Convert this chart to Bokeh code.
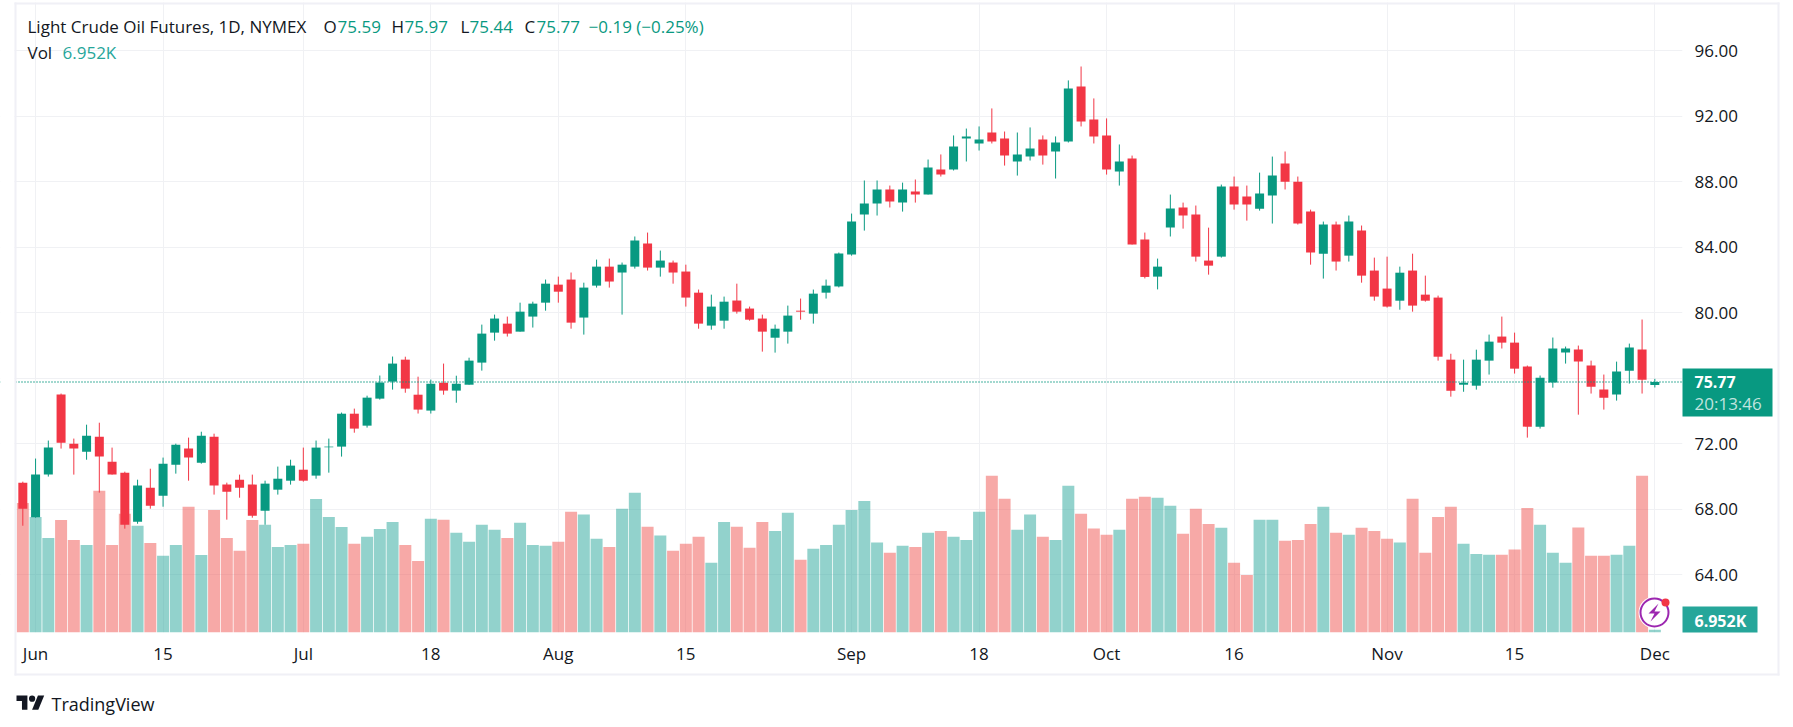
from bokeh.plotting import figure
from bokeh.layouts import column
from bokeh.embed import file_html
from bokeh.resources import INLINE
from bokeh.models import (ColumnDataSource, Range1d, FixedTicker, Span, Label,
                          NumeralTickFormatter)

FONT = "Open Sans"
UP, DOWN = "#089981", "#F23645"
VOL_UP, VOL_DOWN = "#26A69A", "#EF5350"
INK = "#131722"
GRID = "#F0F1F4"
FRAME = "#F0F0F6"

highs = [69.69,71.10,72.20,75.07,72.32,73.17,73.29,71.77,70.30,69.81,70.48,71.16,72.01,72.38,72.74,72.62,69.63,70.12,70.12,69.75,
70.61,71.03,71.77,72.20,72.32,73.91,74.15,74.94,76.17,77.33,77.32,76.10,75.92,76.90,76.16,77.26,79.28,79.89,79.77,80.62,
80.68,82.03,82.21,82.46,81.84,83.25,83.31,83.07,84.66,84.90,83.80,83.19,82.94,81.42,81.11,80.99,81.78,80.38,79.89,79.28,
80.44,80.87,81.42,82.03,83.68,86.06,88.08,88.08,87.77,87.95,88.14,89.36,89.67,90.83,91.25,91.38,92.48,91.07,91.01,91.32,
90.83,90.77,94.19,95.04,93.09,91.87,90.28,89.60,84.90,83.31,87.22,86.73,86.55,85.20,87.83,88.32,87.77,88.56,89.54,89.85,
88.32,86.30,85.57,85.57,85.94,85.33,83.37,83.43,82.82,83.61,82.27,81.05,77.50,77.14,77.75,78.67,79.77,78.79,76.78,76.17,
78.49,77.94,78.00,77.08,76.23,77.02,78.12,79.59,75.97]
opens = [69.63,67.51,70.12,75.01,72.01,71.52,72.44,70.91,70.24,67.25,69.32,68.83,70.73,71.71,70.85,72.44,69.51,69.81,69.51,67.92,
69.20,69.75,70.42,70.06,71.79,71.83,73.84,73.11,74.76,75.80,77.14,75.00,74.03,75.73,75.25,75.61,76.96,78.79,79.34,78.85,
79.77,80.62,81.72,82.03,79.71,81.66,82.82,82.46,82.82,84.23,82.76,83.07,82.52,81.23,79.22,79.52,80.75,80.26,79.65,78.48,
78.85,80.13,79.95,81.23,81.61,83.56,86.00,86.67,87.53,86.73,87.40,87.22,88.75,88.75,90.64,90.34,91.01,90.64,89.24,89.54,
90.58,89.85,90.46,93.82,91.80,90.83,88.63,89.42,84.47,82.21,85.21,86.43,86.00,83.19,83.43,87.71,87.10,86.36,87.16,89.11,
88.01,86.18,83.61,85.39,83.49,85.02,82.58,81.48,80.74,82.58,81.11,80.93,77.14,75.61,75.55,77.08,78.55,78.18,76.72,73.05,
75.74,77.57,77.76,76.78,75.31,75.01,76.47,77.76,75.59]
closes = [68.04,70.12,71.77,72.07,71.71,72.50,71.22,70.12,67.06,69.45,68.22,70.79,71.95,71.16,72.50,69.45,69.08,69.32,67.61,69.57,
69.87,70.67,69.75,71.77,71.83,73.84,72.93,74.82,75.74,76.90,75.37,74.09,75.67,75.25,75.67,77.08,78.73,79.65,78.73,80.07,
80.56,81.78,81.29,79.40,81.54,82.82,81.91,82.94,84.41,82.76,83.19,82.46,80.93,79.34,80.38,80.68,80.07,79.58,78.85,79.03,
79.83,80.07,81.17,81.66,83.62,85.57,86.67,87.53,86.79,87.53,87.22,88.87,88.44,90.15,90.77,90.58,90.46,89.60,89.67,90.03,
89.60,90.40,93.70,91.68,90.77,88.75,89.24,84.17,82.19,82.82,86.37,85.94,83.43,82.88,87.71,86.61,86.61,87.28,88.38,88.01,
85.45,83.68,85.39,83.13,85.57,82.27,80.99,80.38,82.45,80.44,80.74,77.32,75.24,75.73,77.14,78.24,78.18,76.59,73.05,76.04,
77.82,77.82,77.02,75.49,74.82,76.41,77.88,75.92,75.77]
lows = [67.00,67.49,70.00,71.71,70.12,71.03,69.02,70.12,66.82,67.12,68.04,68.16,70.18,69.75,70.79,68.90,67.37,68.71,67.49,67.06,
68.90,69.51,69.69,69.87,70.24,71.22,72.68,72.99,74.70,75.31,75.12,73.85,73.85,75.00,74.51,75.61,76.47,78.30,78.55,78.85,
79.10,80.13,80.62,79.03,78.67,81.54,81.54,79.89,82.70,82.58,82.21,81.78,80.38,79.03,78.97,79.03,79.95,79.52,77.63,77.57,
78.12,79.58,79.34,80.87,81.55,83.49,85.02,85.94,86.43,86.18,86.73,87.22,88.32,88.69,89.24,89.91,90.34,88.99,88.38,89.30,
89.05,88.20,90.40,91.38,90.34,88.44,87.77,84.17,82.10,81.43,84.66,85.14,83.13,82.33,83.37,86.30,85.63,86.24,85.45,87.53,
85.39,82.94,82.09,82.58,83.13,81.84,80.74,80.32,80.19,80.07,80.68,77.08,74.88,75.18,75.31,76.23,77.82,76.29,72.38,72.93,
75.43,76.90,73.78,75.07,74.09,74.64,75.68,75.07,75.44]
volumes = [333,297,243,289,238,225,364,225,305,274,230,197,225,323,199,315,243,210,289,277,
220,225,228,343,297,271,228,246,266,284,225,184,292,290,256,233,277,264,243,282,
225,223,233,310,303,241,220,318,359,272,249,210,228,246,179,284,272,218,284,261,
308,187,215,225,277,315,338,231,205,223,220,256,261,246,238,310,403,344,264,303,
246,238,377,305,267,251,264,344,349,346,326,254,318,279,269,179,148,290,290,236,
238,279,323,256,251,269,261,241,231,344,205,297,323,228,202,200,200,213,320,277,
205,179,270,197,197,200,223,403,7]

tick_positions = [1,11,22,32,42,52,65,75,85,95,107,117,128]
tick_labels = ["Jun","15","Jul","18","Aug","15","Sep","18","Oct","16","Nov","15","Dec"]
price_ticks = [64,68,72,76,80,84,88,92,96]
last_price = 75.77

idx = list(range(len(closes)))
up = [c >= o for o, c in zip(opens, closes)]
src = ColumnDataSource(dict(
    x=idx, high=highs, low=lows,
    top=[max(o, c) for o, c in zip(opens, closes)],
    bottom=[min(o, c) for o, c in zip(opens, closes)],
    vol=volumes,
    color=[UP if u else DOWN for u in up],
    vcolor=[VOL_UP if u else VOL_DOWN for u in up],
))

W, H = 1785, 719
p = figure(width=W, height=H, output_backend="svg", toolbar_location=None,
           x_range=Range1d(-1.751, 130.17), y_range=Range1d(60.48, 99.07),
           y_axis_location="right", min_border_left=0, min_border_right=W - 1682,
           min_border_top=0, min_border_bottom=H - 632, outline_line_color=None,
           background_fill_color="white", border_fill_color="white")
p.extra_y_ranges["vol"] = Range1d(0, 1624)

p.xaxis.ticker = FixedTicker(ticks=tick_positions)
p.xaxis.major_label_overrides = {t: l for t, l in zip(tick_positions, tick_labels)}
p.yaxis.ticker = FixedTicker(ticks=price_ticks)
p.yaxis.formatter = NumeralTickFormatter(format="0.00")
for ax in (p.xaxis[0], p.yaxis[0]):
    ax.axis_line_color = None
    ax.major_tick_line_color = None
    ax.minor_tick_line_color = None
    ax.major_tick_out = 0
    ax.major_label_text_font = FONT
    ax.major_label_text_font_size = "17px"
    ax.major_label_text_color = INK
p.yaxis.major_label_standoff = 12
p.xaxis.major_label_standoff = 9
p.xgrid.grid_line_color = GRID
p.ygrid.grid_line_color = GRID

p.vbar(x="x", top="vol", bottom=0, width=0.94, fill_color="vcolor", fill_alpha=0.5,
       line_color=None, y_range_name="vol", source=src)
p.add_layout(Span(location=last_price, dimension="width", line_color=UP, line_width=1.5, line_dash="1 2"))
p.segment(x0="x", x1="x", y0="low", y1="high", line_color="color", line_width=1, source=src)
p.vbar(x="x", top="top", bottom="bottom", width=0.706, fill_color="color", line_color=None, source=src)

# Transparent full-window layer for the widget furniture that lies outside the plot frame.
ov = figure(frame_width=W, frame_height=H, output_backend="svg", toolbar_location=None,
            x_range=Range1d(0, W), y_range=Range1d(H, 0), x_axis_location=None, y_axis_location=None,
            min_border=0, min_border_left=0, min_border_right=0, min_border_top=0, min_border_bottom=0,
            outline_line_color=None, background_fill_color=None, border_fill_color=None)
ov.grid.visible = False
ov.margin = (-H, 0, 0, 0)


def txt(s, x, y, color=INK, size="17px", style="normal", align="left", alpha=1.0):
    ov.add_layout(Label(x=x, y=y, x_units="canvas", y_units="canvas", text=s, text_color=color,
                        text_font=FONT, text_font_size=size, text_font_style=style,
                        text_align=align, text_baseline="middle", text_alpha=alpha))


def box(l, r, t, b, fill):
    ov.quad(left=[l], right=[r], top=[t], bottom=[b], fill_color=fill, line_color=None)


def poly(pts, color):
    ov.patch(x=[a for a, _ in pts], y=[b for _, b in pts], fill_color=color, line_color=None)


def dot(cx, cy, d, fill, line=None, lw=1):
    ov.scatter(x=[cx], y=[cy], size=d, marker="circle", fill_color=fill, line_color=line, line_width=lw)


# white margin outside the widget, then its outer frame
box(0, 14, 0, H, "white")
box(0, W, 0, 2, "white")
box(14, 1779, 2, 4, FRAME)
box(14, 1779, 673, 675, FRAME)
box(14, 16, 2, 675, FRAME)
box(1777, 1779, 2, 675, FRAME)

# legend
txt("Light Crude Oil Futures, 1D, NYMEX", 27, 26)
txt("O", 323, 26); txt("75.59", 337, 26, UP)
txt("H", 391, 26); txt("75.97", 404, 26, UP)
txt("L", 460, 26); txt("75.44", 469, 26, UP)
txt("C", 524, 26); txt("75.77", 536, 26, UP)
txt("\u22120.19 (\u22120.25%)", 588, 26, UP)
txt("Vol", 27, 52); txt("6.952K", 62, 52, VOL_UP)

# price tags
box(1682, 1772, 368, 416, UP)
txt("75.77", 1694, 381, "white", "16px", "bold")
txt("20:13:46", 1694, 403, "white", "17px", alpha=0.75)
box(1682, 1757, 606, 632, VOL_UP)
txt("6.952K", 1694, 620, "white", "16px", "bold")

# bolt badge
dot(1654, 612, 32, "white")
dot(1654, 612, 28, "white", "#9C27B0", 2)
poly([(1658, 603), (1648, 613), (1654, 613), (1650, 621), (1660, 611), (1654, 611)], "#9C27B0")
dot(1665, 602, 8, "#F23645")

# TradingView mark
S, X0, Y0 = 0.78, 16, 692
poly([(X0 + a * S, Y0 + b * S) for a, b in [(14, 22), (7, 22), (7, 11), (0, 11), (0, 4), (14, 4)]], INK)
poly([(X0 + a * S, Y0 + b * S) for a, b in [(28, 22), (20, 22), (27.5, 4), (35.5, 4)]], INK)
dot(X0 + 20 * S, Y0 + 8 * S, 8 * S, INK)
txt("TradingView", 51, 703, INK, "18px", "normal")

root = column(p, ov, spacing=0)
open("out.html", "w").write(file_html(root, INLINE))
